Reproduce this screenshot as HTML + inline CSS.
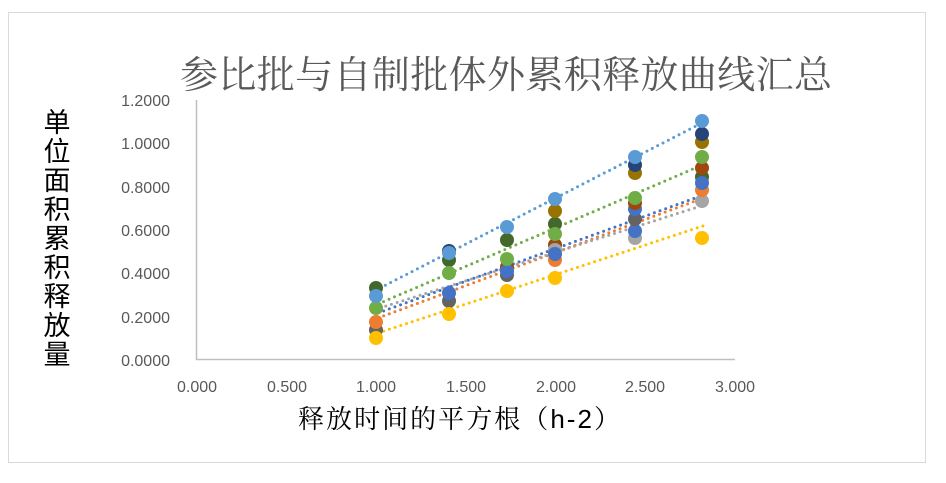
<!DOCTYPE html>
<html><head><meta charset="utf-8"><style>
body{margin:0;background:#fff;}
svg text{font-family:"Liberation Sans","Noto Sans CJK SC",sans-serif;}
</style></head><body>
<svg width="946" height="478" viewBox="0 0 946 478" xmlns="http://www.w3.org/2000/svg">
<rect x="0" y="0" width="946" height="478" fill="#fff"/>
<rect x="8.5" y="12.5" width="917" height="450" fill="none" stroke="#d9d9d9" stroke-width="1"/>
<text x="180" y="88" font-size="38" textLength="652" lengthAdjust="spacing" fill="#595959" style='font-family:"Noto Serif CJK SC","Liberation Serif",serif'>参比批与自制批体外累积释放曲线汇总</text>
<g font-size="27" fill="#000" text-anchor="middle" style='font-family:"Noto Serif CJK SC","Liberation Serif",serif'>
<text x="57" y="132">单</text><text x="57" y="161">位</text><text x="57" y="190">面</text><text x="57" y="219">积</text><text x="57" y="248">累</text><text x="57" y="277">积</text><text x="57" y="306">释</text><text x="57" y="335">放</text><text x="57" y="364">量</text>
</g>
<g font-size="16" fill="#595959" text-anchor="end">
<text x="170" y="106">1.2000</text><text x="170" y="149">1.0000</text><text x="170" y="193">0.8000</text><text x="170" y="236">0.6000</text><text x="170" y="279">0.4000</text><text x="170" y="323">0.2000</text><text x="170" y="366">0.0000</text>
</g>
<g font-size="16" fill="#595959" text-anchor="middle">
<text x="197" y="392">0.000</text><text x="287" y="392">0.500</text><text x="376" y="392">1.000</text><text x="466" y="392">1.500</text><text x="556" y="392">2.000</text><text x="645" y="392">2.500</text><text x="735" y="392">3.000</text>
</g>
<text x="298" y="428" font-size="26" textLength="322" lengthAdjust="spacing" fill="#000" style='font-family:"Noto Serif CJK SC","Liberation Sans",serif'>释放时间的平方根（<tspan style='font-family:"Liberation Sans",sans-serif'>h-2</tspan>）</text>
<path d="M196.5 100V359.5H735" fill="none" stroke="#bfbfbf" stroke-width="1.5"/>
<g stroke-width="3" stroke-dasharray="0 6" stroke-linecap="round" fill="none">
<line x1="380" y1="288" x2="698" y2="125" stroke="#5b9bd5"/>
<line x1="378" y1="304" x2="700" y2="166" stroke="#70ad47"/>
<line x1="378" y1="313" x2="698" y2="197" stroke="#4472c4"/>
<line x1="378" y1="318" x2="698" y2="200" stroke="#ed7d31"/>
<line x1="380" y1="308" x2="698" y2="207" stroke="#a5a5a5"/>
<line x1="378" y1="333" x2="703" y2="226" stroke="#ffc000"/>
</g>
<g>
<circle cx="376" cy="288" r="7" fill="#43682b"/><circle cx="376" cy="330" r="7" fill="#636363"/><circle cx="376" cy="322" r="7" fill="#ed7d31"/><circle cx="376" cy="308" r="7" fill="#70ad47"/><circle cx="376" cy="296" r="7" fill="#5b9bd5"/><circle cx="376" cy="338" r="7" fill="#ffc000"/>
<circle cx="449" cy="260" r="7" fill="#43682b"/><circle cx="449" cy="251" r="7" fill="#264478"/><circle cx="449" cy="253" r="7" fill="#5b9bd5"/><circle cx="449" cy="301" r="7" fill="#636363"/><circle cx="449" cy="273" r="7" fill="#70ad47"/><circle cx="449" cy="293" r="7" fill="#4472c4"/><circle cx="449" cy="314" r="7" fill="#ffc000"/>
<circle cx="507" cy="275" r="7" fill="#636363"/><circle cx="507" cy="267" r="7" fill="#9e480e"/><circle cx="507" cy="271" r="7" fill="#4472c4"/><circle cx="507" cy="240" r="7" fill="#43682b"/><circle cx="507" cy="259" r="7" fill="#70ad47"/><circle cx="507" cy="227" r="7" fill="#5b9bd5"/><circle cx="507" cy="291" r="7" fill="#ffc000"/>
<circle cx="555" cy="260" r="7" fill="#ed7d31"/><circle cx="555" cy="245" r="7" fill="#9e480e"/><circle cx="555" cy="250" r="7" fill="#a5a5a5"/><circle cx="555" cy="254" r="7" fill="#4472c4"/><circle cx="555" cy="224" r="7" fill="#43682b"/><circle cx="555" cy="234" r="7" fill="#70ad47"/><circle cx="555" cy="211" r="7" fill="#997300"/><circle cx="555" cy="199" r="7" fill="#5b9bd5"/><circle cx="555" cy="278" r="7" fill="#ffc000"/>
<circle cx="635" cy="238" r="7" fill="#a5a5a5"/><circle cx="635" cy="231" r="7" fill="#4472c4"/><circle cx="635" cy="219" r="7" fill="#636363"/><circle cx="635" cy="209" r="7" fill="#4472c4"/><circle cx="635" cy="203" r="7" fill="#9e480e"/><circle cx="635" cy="198" r="7" fill="#70ad47"/><circle cx="635" cy="173" r="7" fill="#997300"/><circle cx="635" cy="165" r="7" fill="#264478"/><circle cx="635" cy="157" r="7" fill="#5b9bd5"/>
<circle cx="702" cy="238" r="7" fill="#ffc000"/><circle cx="702" cy="201" r="7" fill="#a5a5a5"/><circle cx="702" cy="190" r="7" fill="#ed7d31"/><circle cx="702" cy="177" r="7" fill="#43682b"/><circle cx="702" cy="183" r="7" fill="#4472c4"/><circle cx="702" cy="168" r="7" fill="#9e480e"/><circle cx="702" cy="157" r="7" fill="#70ad47"/><circle cx="702" cy="142" r="7" fill="#997300"/><circle cx="702" cy="134" r="7" fill="#264478"/><circle cx="702" cy="121" r="7" fill="#5b9bd5"/>
</g>
</svg>
</body></html>
